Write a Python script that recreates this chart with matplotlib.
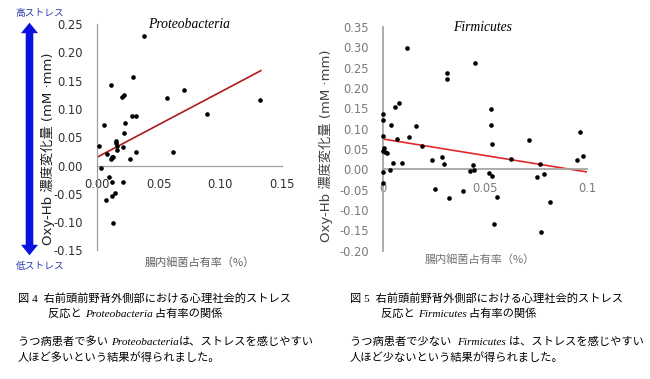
import numpy as np
import matplotlib
matplotlib.use('Agg')
import matplotlib.pyplot as plt
from matplotlib.patches import Polygon

# ---------------- data ----------------
prot_x = [0.0384, 0.0292, 0.0111, 0.0709, 0.0566, 0.0222, 0.0206, 0.1324, 0.0894, 0.0282,
          0.0314, 0.0057, 0.0227, 0.0222, 0.0016, 0.0154, 0.0157, 0.0165, 0.0211, 0.0160,
          0.0079, 0.0314, 0.0620, 0.0125, 0.0133, 0.0114, 0.0268, 0.0032, 0.0100, 0.0124,
          0.0209, 0.0149, 0.0122, 0.0071, 0.0127]
prot_y = [0.229, 0.156, 0.143, 0.134, 0.119, 0.124, 0.1216, 0.116, 0.091, 0.0875,
          0.0875, 0.071, 0.0757, 0.057, 0.0345, 0.044, 0.040, 0.035, 0.033, 0.0274,
          0.020, 0.023, 0.0244, 0.0145, 0.0155, 0.011, 0.011, -0.005, -0.020, -0.030,
          -0.030, -0.049, -0.054, -0.061, -0.101]
prot_trend_x = [0.0, 0.133]
prot_trend_y = [0.0145, 0.1675]

firm_x = [0.0116, 0.0452, 0.0312, 0.0312, 0.0, 0.0, 0.0078, 0.0060, 0.0529, 0.0039,
          0.0163, 0.0527, 0.0, 0.0069, 0.0129, 0.0963, 0.0716, 0.0535, 0.0191, 0.0007,
          0.0, 0.0011, 0.0020, 0.0980, 0.0948, 0.0625, 0.0290, 0.0241, 0.0050, 0.0094,
          0.0297, 0.0442, 0.0767, 0.0034, 0.0, 0.0426, 0.0447, 0.0519, 0.0532, 0.0787,
          0.0752, 0.0, 0.0253, 0.0390, 0.0321, 0.0556, 0.0819, 0.0543, 0.0772]
firm_y = [0.2995, 0.261, 0.238, 0.223, 0.136, 0.121, 0.164, 0.153, 0.149, 0.108,
          0.106, 0.108, 0.081, 0.075, 0.079, 0.092, 0.072, 0.063, 0.0566, 0.052,
          0.044, 0.0426, 0.041, 0.0335, 0.022, 0.0246, 0.030, 0.0237, 0.016, 0.016,
          0.012, 0.0106, 0.013, -0.0025, -0.0067, -0.004, -0.001, -0.008, -0.016, -0.0116,
          -0.018, -0.033, -0.0485, -0.0527, -0.0715, -0.0675, -0.0805, -0.134, -0.1537]
firm_trend_x = [0.0, 0.1]
firm_trend_y = [0.0746, -0.0067]

prot_yticks = [-0.15, -0.10, -0.05, 0.00, 0.05, 0.10, 0.15, 0.20, 0.25]
prot_ytick_labels = ['-0.15', '-0.10', '-0.05', '0.00', '0.05', '0.10', '0.15', '0.20', '0.25']
prot_xticks = [0.00, 0.05, 0.10, 0.15]
prot_xtick_labels = ['0.00', '0.05', '0.10', '0.15']
firm_yticks = [-0.20, -0.15, -0.10, -0.05, 0.00, 0.05, 0.10, 0.15, 0.20, 0.25, 0.30, 0.35]
firm_ytick_labels = ['-0.20', '-0.15', '-0.10', '-0.05', '0.00', '0.05', '0.10', '0.15',
                     '0.20', '0.25', '0.30', '0.35']
firm_xticks = [0.0, 0.05, 0.1]
firm_xtick_labels = ['0', '0.05', '0.1']

ylabel_text = 'Oxy-Hb 濃度変化量 (mM ·mm)'
xlabel_text = '腸内細菌占有率（%）'

# ---------------- figure ----------------
W, H = 650, 379
fig = plt.figure(figsize=(6.5, 3.79), dpi=100)
SANS = ['DejaVu Sans', 'Noto Sans CJK JP']
CJK = ['Noto Sans CJK JP', 'DejaVu Sans']


def style_axes(ax, spine_color, label_color, lw):
    for s in ['top', 'right']:
        ax.spines[s].set_visible(False)
    ax.spines['bottom'].set_position(('data', 0))
    ax.spines['left'].set_color(spine_color)
    ax.spines['bottom'].set_color(spine_color)
    ax.spines['left'].set_linewidth(lw)
    ax.spines['bottom'].set_linewidth(lw)
    ax.tick_params(axis='both', length=0, labelsize=8.3, labelcolor=label_color)
    ax.tick_params(axis='y', pad=10)
    ax.tick_params(axis='x', pad=9)
    ax.patch.set_alpha(0)


# Left chart: Proteobacteria
ax1 = fig.add_axes([97 / W, 1 - 250.4 / H, 184.7 / W, 226.4 / H])
ax1.set_xlim(0, 0.15)
ax1.set_ylim(-0.15, 0.25)
ax1.scatter(prot_x, prot_y, s=11, c='black', linewidths=0, zorder=3, clip_on=False)
ax1.plot(prot_trend_x, prot_trend_y, color='#b0191c', lw=1.2, zorder=2)
ax1.set_yticks(prot_yticks)
ax1.set_yticklabels(prot_ytick_labels)
ax1.set_xticks(prot_xticks)
ax1.set_xticklabels(prot_xtick_labels)
style_axes(ax1, '#a0a0a0', '#303030', 0.9)
ax1.text(0.5, 1.0, 'Proteobacteria', transform=ax1.transAxes, ha='center', va='center',
         fontsize=9.8, style='italic', family='Liberation Serif', color='black')

# Right chart: Firmicutes
ax2 = fig.add_axes([383 / W, 1 - 250.5 / H, 204.3 / W, 223.3 / H])
ax2.set_xlim(0, 0.1)
ax2.set_ylim(-0.20, 0.35)
ax2.scatter(firm_x, firm_y, s=11, c='black', linewidths=0, zorder=3, clip_on=False)
ax2.plot(firm_trend_x, firm_trend_y, color='#e0282a', lw=1.2, zorder=2)
ax2.set_yticks(firm_yticks)
ax2.set_yticklabels(firm_ytick_labels)
ax2.set_xticks(firm_xticks)
ax2.set_xticklabels(firm_xtick_labels)
style_axes(ax2, '#a6a6a6', '#7a7a7a', 1.3)
ax2.text(0.485, 1.0, 'Firmicutes', transform=ax2.transAxes, ha='center', va='center',
         fontsize=9.8, style='italic', family='Liberation Serif', color='black')

# axis labels
fig.text(48 / W, 1 - 149 / H, ylabel_text, rotation=90, ha='center', va='center',
         fontsize=9.5, family=SANS, color='#202020')
fig.text(326 / W, 1 - 146 / H, ylabel_text, rotation=90, ha='center', va='center',
         fontsize=9.5, family=SANS, color='#404040')
fig.text(200 / W, 1 - 262 / H, xlabel_text, ha='center', va='center',
         fontsize=8, family=CJK, color='#606060')
fig.text(480 / W, 1 - 259 / H, xlabel_text, ha='center', va='center',
         fontsize=8, family=CJK, color='#707070')

# blue double arrow
cx, top, bot = 29.5, 22.7, 255.3
sw, hw, hl = 3.8, 8.5, 10.5
pts_px = [(cx, top), (cx + hw, top + hl), (cx + sw, top + hl), (cx + sw, bot - hl),
          (cx + hw, bot - hl), (cx, bot), (cx - hw, bot - hl), (cx - sw, bot - hl),
          (cx - sw, top + hl), (cx - hw, top + hl)]
pts = [(x / W, 1 - y / H) for x, y in pts_px]
fig.patches.append(Polygon(pts, closed=True, transform=fig.transFigure,
                           facecolor='#0a10e0', edgecolor='none'))
fig.text(40 / W, 1 - 13 / H, '高ストレス', ha='center', va='center', fontsize=7,
         family=CJK, color='#2a3cb0')
fig.text(40 / W, 1 - 266 / H, '低ストレス', ha='center', va='center', fontsize=7,
         family=CJK, color='#2a3cb0')

# captions with mixed fonts
renderer = fig.canvas.get_renderer()
CAP = ['Liberation Serif', 'Noto Sans CJK JP']


def rich_line(x_px, y_px, segs, size=8.1):
    x = x_px
    for s, italic in segs:
        if italic:
            t = fig.text(x / W, 1 - y_px / H, s, fontsize=size, family='Liberation Serif',
                         style='italic', va='baseline', ha='left', color='black')
        else:
            t = fig.text(x / W, 1 - y_px / H, s, fontsize=size, family=CAP,
                         va='baseline', ha='left', color='black')
        x += t.get_window_extent(renderer).width


rich_line(18, 302, [('図 4  右前頭前野背外側部における心理社会的ストレス', False)])
rich_line(48, 317, [('反応と ', False), ('Proteobacteria', True), (' 占有率の関係', False)])
rich_line(18, 345, [('うつ病患者で多い ', False), ('Proteobacteria', True),
                    ('は、ストレスを感じやすい', False)])
rich_line(18, 361, [('人ほど多いという結果が得られました。', False)])

rich_line(350, 302, [('図 5  右前頭前野背外側部における心理社会的ストレス', False)])
rich_line(381, 317, [('反応と ', False), ('Firmicutes', True), (' 占有率の関係', False)])
rich_line(350, 345, [('うつ病患者で少ない  ', False), ('Firmicutes', True),
                     (' は、ストレスを感じやすい', False)])
rich_line(350, 361, [('人ほど少ないという結果が得られました。', False)])

fig.savefig('out.png', dpi=100, facecolor='white')
